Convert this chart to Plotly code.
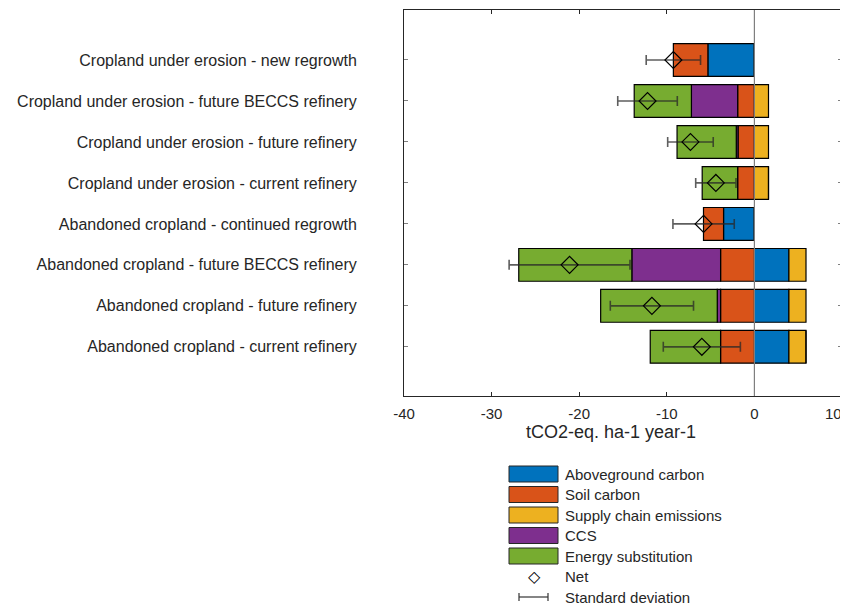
import plotly.graph_objects as go

categories = [
    "Abandoned cropland - current refinery",
    "Abandoned cropland - future refinery",
    "Abandoned cropland - future BECCS refinery",
    "Abandoned cropland - continued regrowth",
    "Cropland under erosion - current refinery",
    "Cropland under erosion - future refinery",
    "Cropland under erosion - future BECCS refinery",
    "Cropland under erosion - new regrowth",
]
aboveground = [3.94, 3.94, 3.94, -3.52, 0.0, 0.0, 0.0, -5.31]
soil = [-3.86, -3.86, -3.86, -2.29, -1.91, -1.87, -1.91, -3.94]
supply_chain = [1.95, 1.95, 1.95, 0.0, 1.61, 1.61, 1.61, 0.0]
ccs = [0.0, -0.38, -10.13, 0.0, 0.0, -0.2, -5.28, 0.0]
energy = [-8.03, -13.31, -12.91, 0.0, -4.05, -6.76, -6.53, 0.0]
net = [-6.0, -11.7, -21.1, -5.8, -4.4, -7.3, -12.2, -9.25]
sd = [4.4, 4.75, 6.9, 3.5, 2.3, 2.6, 3.4, 3.1]
x_ticks = [-40, -30, -20, -10, 0, 10]
x_tick_labels = ["-40", "-30", "-20", "-10", "0", "10"]
x_title = "tCO2-eq. ha-1 year-1"

series = [
    ("Aboveground carbon", aboveground, "#0072BD"),
    ("Soil carbon", soil, "#D95319"),
    ("Supply chain emissions", supply_chain, "#EDB120"),
    ("CCS", ccs, "#7E2F8E"),
    ("Energy substitution", energy, "#77AC30"),
]

TXT = "#262626"
FONT = "Liberation Sans, Arial, sans-serif"
OFF = 8  # page body margin
W, H = 848 - OFF, 607 - OFF
# plot box in page pixels
L, R, T, B = 404, 842, 10, 396

fig = go.Figure()
idx = list(range(len(categories)))
for name, vals, col in series:
    fig.add_trace(go.Bar(
        y=idx, x=vals, orientation="h", name=name, width=0.8,
        marker=dict(color=col, line=dict(color="black", width=1.2)),
        showlegend=False,
    ))

fig.add_trace(go.Scatter(
    y=idx, x=net, mode="markers", name="Net",
    marker=dict(symbol="diamond-open", size=13, color="black", line=dict(width=1.2)),
    error_x=dict(type="data", array=sd, color="rgba(40,40,40,0.75)", thickness=1.6, width=5),
    showlegend=False,
))

fig.add_vline(x=0, line=dict(color="#7f7f7f", width=1.2), layer="above")

def px2x(px):
    return (px - L) / (R - L)

def px2y(py):
    return (B - py) / (B - T)

shapes = []
annotations = []
# last x tick label, kept inside the window edge
annotations.append(dict(xref="x", yref="paper", x=x_ticks[-1], y=px2y(413),
                        text=x_tick_labels[-1], showarrow=False, xanchor="right",
                        yanchor="middle", xshift=1, borderpad=0,
                        font=dict(size=15, color=TXT, family=FONT)))
# axis title
annotations.append(dict(xref="paper", yref="paper", x=px2x(611), y=px2y(432),
                        text=x_title, showarrow=False, xanchor="center", yanchor="middle",
                        font=dict(size=18, color=TXT, family=FONT)))
# legend box
shapes.append(dict(type="rect", xref="paper", yref="paper",
                   x0=px2x(502), x1=px2x(743), y0=px2y(615), y1=px2y(461),
                   line=dict(color=TXT, width=1), fillcolor="white", layer="above"))
ys = [474, 494.5, 515, 535.5, 556, 576.5, 597]
for i, (n, _, c) in enumerate(series):
    yc = ys[i]
    shapes.append(dict(type="rect", xref="paper", yref="paper",
                       x0=px2x(509), x1=px2x(558), y0=px2y(yc + 8), y1=px2y(yc - 8),
                       line=dict(color="#262626", width=1), fillcolor=c, layer="above"))
    annotations.append(dict(xref="paper", yref="paper", x=px2x(563), y=px2y(yc),
                            text=n, showarrow=False, xanchor="left", yanchor="middle",
                            font=dict(size=15, color=TXT, family=FONT)))
# Net
annotations.append(dict(xref="paper", yref="paper", x=px2x(534), y=px2y(ys[5]),
                        text="◇", showarrow=False, xanchor="center", yanchor="middle",
                        font=dict(size=16, color="black", family="DejaVu Sans")))
annotations.append(dict(xref="paper", yref="paper", x=px2x(563), y=px2y(ys[5]),
                        text="Net", showarrow=False, xanchor="left", yanchor="middle",
                        font=dict(size=15, color=TXT, family=FONT)))
# Standard deviation
yc = ys[6]
shapes.append(dict(type="line", xref="paper", yref="paper", x0=px2x(519), x1=px2x(548),
                   y0=px2y(yc), y1=px2y(yc), line=dict(color="#333", width=1.2), layer="above"))
for xx in (519, 548):
    shapes.append(dict(type="line", xref="paper", yref="paper", x0=px2x(xx), x1=px2x(xx),
                       y0=px2y(yc - 4), y1=px2y(yc + 4), line=dict(color="#333", width=1.2), layer="above"))
annotations.append(dict(xref="paper", yref="paper", x=px2x(563), y=px2y(yc),
                        text="Standard deviation", showarrow=False, xanchor="left", yanchor="middle",
                        font=dict(size=15, color=TXT, family=FONT)))

fig.update_layout(
    width=W, height=H,
    margin=dict(l=L - OFF, r=W - (R - OFF), t=T - OFF, b=H - (B - OFF), pad=0, autoexpand=False),
    barmode="relative", bargap=0.2,
    plot_bgcolor="white", paper_bgcolor="white",
    font=dict(family=FONT, color=TXT, size=16),
    shapes=shapes, annotations=annotations,
    showlegend=False,
)
fig.update_xaxes(
    range=[-40, 10], tickvals=x_ticks, ticktext=x_tick_labels[:-1] + [""],
    ticks="inside", ticklen=4, tickcolor=TXT, tickwidth=1,
    showline=True, linecolor=TXT, linewidth=1, mirror="ticks",
    showgrid=False, zeroline=False, automargin=False,
    tickfont=dict(size=15, color=TXT), ticklabelstandoff=4,
)
fig.update_yaxes(
    range=[-1.2, 8.22], tickvals=idx, ticktext=categories,
    ticks="inside", ticklen=4, tickcolor="#7f7f7f", tickwidth=1,
    showline=True, linecolor=TXT, linewidth=1, mirror="ticks",
    showgrid=False, zeroline=False, automargin=False,
    tickfont=dict(size=16, color=TXT), ticklabelstandoff=43,
)

fig.write_html("out.html")
